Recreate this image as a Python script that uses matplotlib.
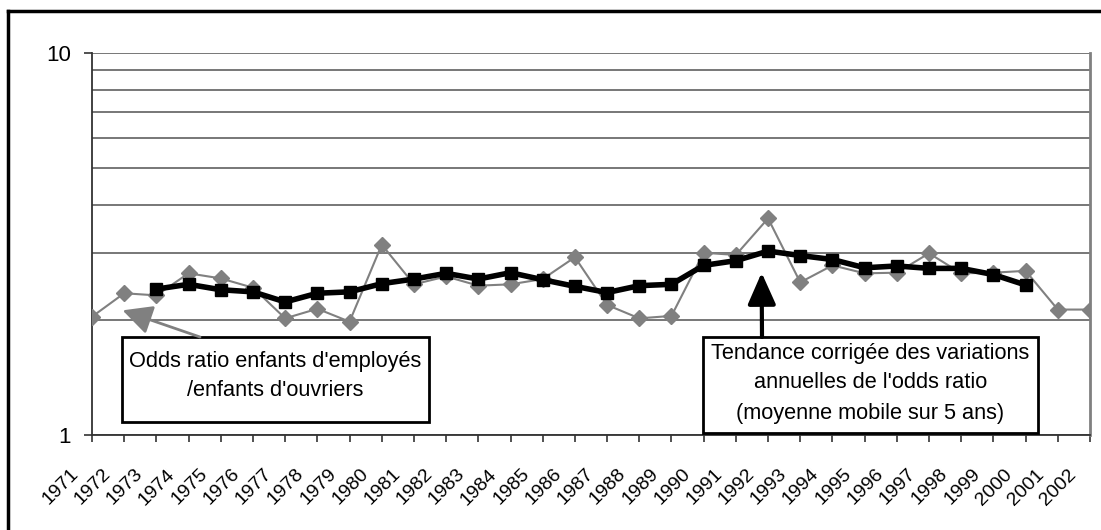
import matplotlib
matplotlib.use("Agg")
import matplotlib.pyplot as plt
from matplotlib.lines import Line2D
from matplotlib.patches import Rectangle
from matplotlib.transforms import ScaledTranslation
from matplotlib.ticker import FixedLocator, NullFormatter

plt.rcParams['font.family'] = ['Liberation Sans', 'DejaVu Sans']

years = list(range(1971, 2003))
odds = [2.04, 2.35, 2.32, 2.65, 2.57, 2.43, 2.02, 2.14, 1.98, 3.15,
        2.48, 2.60, 2.46, 2.48, 2.56, 2.92, 2.19, 2.02, 2.05, 3.00,
        2.96, 3.69, 2.51, 2.78, 2.65, 2.66, 2.99, 2.65, 2.66, 2.69,
        2.13, 2.13]
trend_years = list(range(1973, 2001))
trend = [2.41, 2.48, 2.40, 2.37, 2.23, 2.35, 2.37, 2.49, 2.56, 2.65,
         2.56, 2.66, 2.55, 2.45, 2.36, 2.46, 2.48, 2.78, 2.86, 3.03,
         2.95, 2.88, 2.74, 2.77, 2.73, 2.73, 2.63, 2.47]
year_labels = [str(y) for y in years]

fig = plt.figure(figsize=(11.01, 5.30), dpi=100)
ax = fig.add_axes([92 / 1101, 1 - 435 / 530, 998 / 1101, 382 / 530])

gray = '#808080'
ax.plot(years, odds, color=gray, lw=1.5, marker='D', ms=8.5,
        mfc=gray, mec=gray, zorder=3)
ax.plot(trend_years, trend, color='black', lw=4, marker='s', ms=9,
        mfc='black', mec='black', zorder=4)

ax.set_yscale('log')
ax.set_ylim(1, 10)
ax.set_xlim(1971, 2002)
ax.set_yticks([1, 10])
ax.set_yticklabels(['1', '10'])
ax.yaxis.set_minor_locator(FixedLocator([2, 3, 4, 5, 6, 7, 8, 9]))
ax.yaxis.set_minor_formatter(NullFormatter())
ax.yaxis.grid(True, which='both', color='#777777', lw=1.4)
ax.set_axisbelow(True)
ax.tick_params(axis='y', which='major', length=6, width=1.2,
               color='#333333', labelsize=16, pad=9)
ax.tick_params(axis='y', which='minor', length=0)

ax.set_xticks(years)
ax.set_xticklabels(year_labels, rotation=45, ha='right', va='top',
                   fontsize=14)
ax.tick_params(axis='x', length=5, width=1.2, color='#333333', pad=17)
offset = ScaledTranslation(-10 / 100, 0, fig.dpi_scale_trans)
for lab in ax.get_xticklabels():
    lab.set_transform(lab.get_transform() + offset)

ax.spines['top'].set_visible(False)
ax.spines['right'].set_color(gray)
ax.spines['right'].set_linewidth(2)
ax.spines['left'].set_color('#333333')
ax.spines['left'].set_linewidth(1.3)
ax.spines['bottom'].set_color('#333333')
ax.spines['bottom'].set_linewidth(1.3)

# annotation boxes
def px(x):
    return (x - 92) / 998

def py(y):
    return (435 - y) / 382

ax.add_patch(Rectangle((px(122), py(422)), px(429) - px(122), py(337) - py(422),
                       transform=ax.transAxes, fill=True, fc='white',
                       ec='black', lw=2, clip_on=False, zorder=5))
ax.text(px(275.5), py(361), "Odds ratio enfants d'employés",
        transform=ax.transAxes, ha='center', va='center', fontsize=15.7, zorder=6)
ax.text(px(275.5), py(390), "/enfants d'ouvriers",
        transform=ax.transAxes, ha='center', va='center', fontsize=15.7, zorder=6)

ax.add_patch(Rectangle((px(703), py(433)), px(1038) - px(703), py(337) - py(433),
                       transform=ax.transAxes, fill=True, fc='white',
                       ec='black', lw=2, clip_on=False, zorder=5))
for txt, yy in [("Tendance corrigée des variations", 353),
                ("annuelles de l'odds ratio", 383),
                ("(moyenne mobile sur 5 ans)", 413)]:
    ax.text(px(870.5), py(yy), txt, transform=ax.transAxes,
            ha='center', va='center', fontsize=15.7, zorder=6)

ax.annotate('', xy=(1971.95, 2.12), xycoords='data',
            xytext=(px(200), py(337)), textcoords='axes fraction',
            arrowprops=dict(arrowstyle='-|>,head_length=0.9,head_width=0.45',
                            mutation_scale=20, color=gray, lw=2,
                            shrinkA=0, shrinkB=0), zorder=5)
ax.annotate('', xy=(1991.8, 2.66), xycoords='data',
            xytext=(px(762), py(337)), textcoords='axes fraction',
            arrowprops=dict(arrowstyle='-|>,head_length=0.97,head_width=0.43',
                            mutation_scale=20, color='black', lw=3,
                            shrinkA=0, shrinkB=0), zorder=5)

# outer frame (only top and left visible)
fig.add_artist(Line2D([8 / 1101, 8 / 1101], [0, 1 - 11 / 530],
                      transform=fig.transFigure, color='black', lw=2.5))
fig.add_artist(Line2D([8 / 1101, 1], [1 - 11 / 530, 1 - 11 / 530],
                      transform=fig.transFigure, color='black', lw=2.5))

fig.savefig('out.png', dpi=100)
